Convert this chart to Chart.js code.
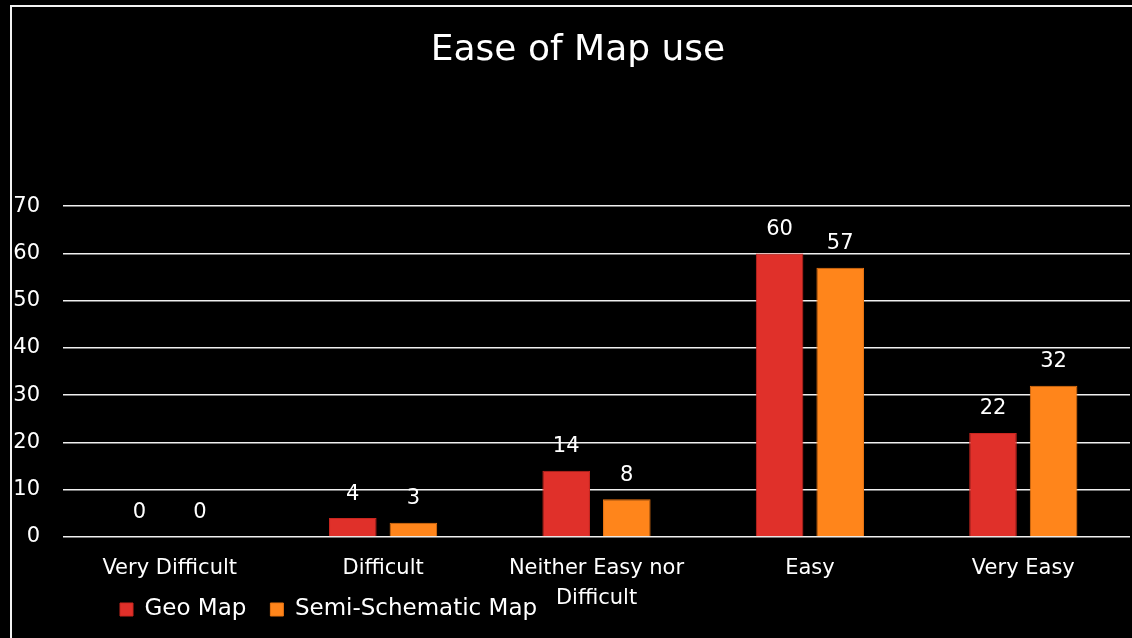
<!DOCTYPE html>
<html>
<head>
<meta charset="utf-8">
<script src="https://cdn.jsdelivr.net/npm/chart.js@4"></script>
<style>
  html, body { margin: 0; padding: 0; background: #000; }
  canvas { display: block; }
</style>
</head>
<body>
<canvas id="chart" width="1132" height="638"></canvas>
<script>
const categories = ["Very Difficult", "Difficult", ["Neither Easy nor", "Difficult"], "Easy", "Very Easy"];
const geoMap = [0, 4, 14, 60, 22];
const semiSchematicMap = [0, 3, 8, 57, 32];
const yTicks = [0, 10, 20, 30, 40, 50, 60, 70];

const FONT = "'DejaVu Sans', sans-serif";

// black page, white frame on the top and left edge, and the
// legend/title nudged to where the original slide had them
const frame = {
  id: "frame",
  beforeLayout(chart) {
    const legend = chart.legend;
    if (legend && !legend._flatFit) {
      const fit = legend.fit;
      legend.fit = function () {
        fit.call(this);
        this.height = 0; // legend overlaps the axis label area, takes no room
      };
      legend._flatFit = true;
    }
  },
  beforeDraw(chart) {
    const ctx = chart.ctx;
    ctx.save();
    ctx.fillStyle = "#000";
    ctx.fillRect(0, 0, chart.width, chart.height);
    ctx.strokeStyle = "#f2f2f2";
    ctx.lineWidth = 2;
    ctx.strokeRect(11, 6, chart.width + 20, chart.height + 20);
    ctx.restore();
    if (chart.legend) {
      chart.legend.left = 96;
      chart.legend.top = 574;
    }
    if (chart.titleBlock) {
      chart.titleBlock.left = 24;
      chart.titleBlock.right = chart.width;
    }
  },
};

// value labels above each bar
const barValues = {
  id: "barValues",
  afterDatasetsDraw(chart) {
    const ctx = chart.ctx;
    ctx.save();
    ctx.fillStyle = "#fff";
    ctx.font = "21px " + FONT;
    ctx.textAlign = "center";
    ctx.textBaseline = "middle";
    chart.data.datasets.forEach((ds, i) => {
      chart.getDatasetMeta(i).data.forEach((bar, j) => {
        ctx.fillText(String(ds.data[j]), bar.x, bar.y - 24);
      });
    });
    ctx.restore();
  },
};

new Chart(document.getElementById("chart"), {
  type: "bar",
  data: {
    labels: categories,
    datasets: [
      {
        label: "Geo Map",
        data: geoMap,
        backgroundColor: "#e0302a",
        borderColor: "#c8261f",
        borderWidth: 1,
      },
      {
        label: "Semi-Schematic Map",
        data: semiSchematicMap,
        backgroundColor: "#ff851b",
        borderColor: "#e87412",
        borderWidth: 1,
      },
    ],
  },
  options: {
    responsive: false,
    animation: false,
    categoryPercentage: 0.568,
    barPercentage: 0.785,
    layout: {
      padding: { left: 0, right: 2, top: 0, bottom: 0 },
    },
    plugins: {
      title: {
        display: true,
        text: "Ease of Map use",
        color: "#fff",
        font: { family: FONT, size: 36, weight: "normal" },
        padding: { top: 29, bottom: 134 },
      },
      legend: {
        display: true,
        position: "bottom",
        align: "start",
        labels: {
          color: "#fff",
          boxWidth: 13,
          boxHeight: 13,
          padding: 24,
          font: { family: FONT, size: 23 },
        },
      },
      tooltip: { enabled: false },
    },
    scales: {
      x: {
        grid: { display: false, drawTicks: false },
        border: { display: false },
        ticks: {
          color: "#fff",
          padding: 17,
          maxRotation: 0,
          autoSkip: false,
          font: { family: FONT, size: 21, lineHeight: 1.4 },
        },
        afterFit: (scale) => {
          scale.height = 101;
        },
      },
      y: {
        min: 0,
        max: 70,
        afterBuildTicks: (scale) => {
          scale.ticks = yTicks.map((v) => ({ value: v }));
        },
        grid: { color: "#f0f0f0", lineWidth: 1.5, drawTicks: false },
        border: { display: false },
        ticks: {
          color: "#fff",
          padding: 23,
          font: { family: FONT, size: 21 },
        },
        afterFit: (scale) => {
          scale.width = 63;
        },
      },
    },
  },
  plugins: [frame, barValues],
});
</script>
</body>
</html>
